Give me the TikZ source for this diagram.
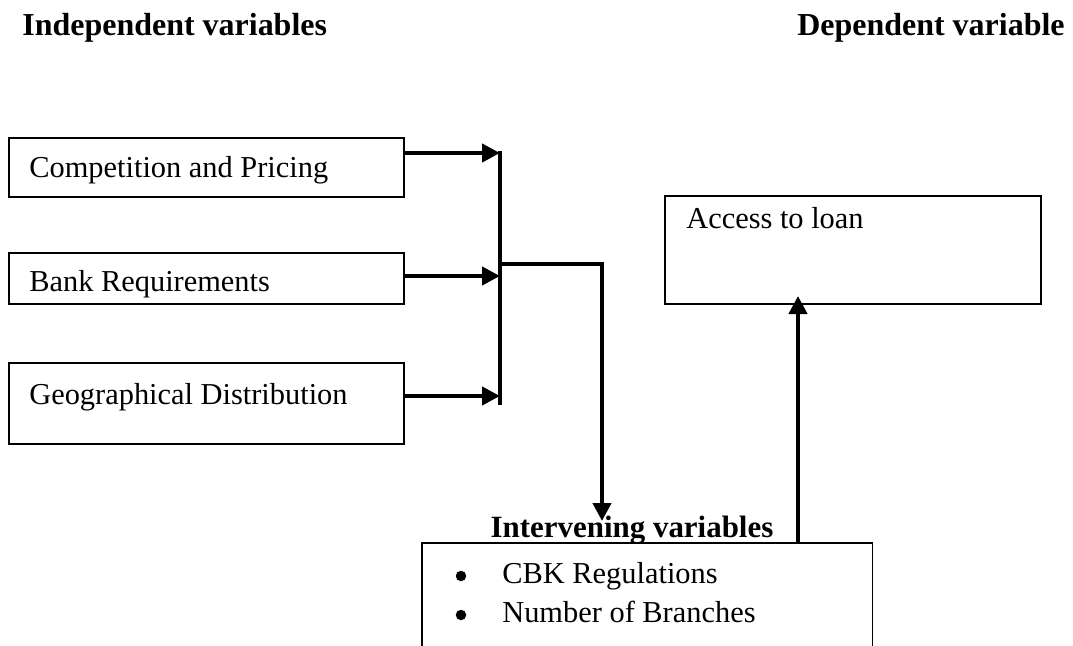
\documentclass[tikz,border=0pt]{standalone}
\usepackage{fontspec}
\setmainfont{Liberation Serif}
\usetikzlibrary{arrows.meta, positioning, calc}

\begin{document}
\begin{tikzpicture}[x=0.02cm, y=-0.02cm,
    varbox/.style={draw, line width=0.9pt, anchor=north west, inner sep=0pt},
    boxtext/.style={anchor=base west, inner sep=0pt, font=\fontsize{17.3}{20}\selectfont},
    heading/.style={anchor=base west, inner sep=0pt, font=\fontsize{18.2}{22}\selectfont\bfseries},
    dot/.style={circle, fill, inner sep=0pt, minimum size=0.21cm},
    link/.style={line width=2.4pt},
    linkarrow/.style={link, -{Triangle[length=0.36cm, width=0.36cm]}}]
    \clip (0,0) rectangle (1073,646);
    % Headings
    \node[heading] (indep) at (22,35) {Independent variables};
    \node[heading, anchor=base east] (dep) at (1065,35) {Dependent variable};
    % Independent variable boxes
    \node[varbox, minimum width=7.9cm, minimum height=1.18cm] (comp) at (8,137) {};
    \node[varbox, minimum width=7.9cm, minimum height=1.02cm] (bank) at (8,252) {};
    \node[varbox, minimum width=7.9cm, minimum height=1.62cm] (geo) at (8,362) {};
    \node[boxtext] (comptext) at (29,177) {Competition and Pricing};
    \node[boxtext] (banktext) at (29,291) {Bank Requirements};
    \node[boxtext] (geotext) at (29,404) {Geographical Distribution};
    % Dependent variable box
    \node[varbox, minimum width=7.52cm, minimum height=2.16cm] (access) at (664,195) {};
    \node[boxtext] (accesstext) at (686,228) {Access to loan};
    % Intervening variables
    \node[varbox, minimum width=9.02cm, minimum height=3cm] (interv) at (421,542) {};
    \node[heading, anchor=base, font=\fontsize{17.6}{22}\selectfont\bfseries] (intervtitle) at (632,537) {Intervening variables};
    \node[dot] (bul1) at (461,576) {};
    \node[boxtext] (cbk) at (502,583) {CBK Regulations};
    \node[dot] (bul2) at (461,615) {};
    \node[boxtext] (branches) at (502,622) {Number of Branches};
    % Connectors
    \coordinate (bartop) at (500,151);
    \coordinate (barbot) at (500,405);
    \coordinate (junction) at (500,264);
    \coordinate (drop) at (602,264);
    \draw[link] (bartop) -- (barbot);
    \draw[linkarrow] (comp.east |- 0,153) -- (bartop |- 0,153);
    \draw[linkarrow] (bank.east |- 0,276) -- (bartop |- 0,276);
    \draw[linkarrow] (geo.east |- 0,396) -- (bartop |- 0,396);
    \draw[linkarrow] (junction) -- (drop) -- (drop |- 0,521);
    \draw[linkarrow] (798,542) -- (798,296);
\end{tikzpicture}
\end{document}
